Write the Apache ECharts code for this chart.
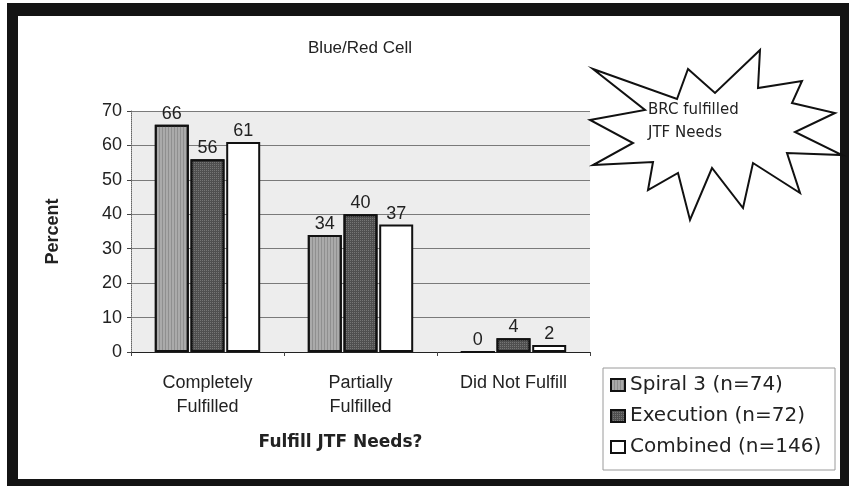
<!DOCTYPE html>
<html>
<head>
<meta charset="utf-8">
<script src="https://cdn.jsdelivr.net/npm/echarts@6/dist/echarts.min.js"></script>
<style>
  html, body { margin: 0; padding: 0; background: #fff; }
  #chart { width: 849px; height: 486px; }
</style>
</head>
<body>
<div id="chart"></div>
<script>
// Survey answers, percent of respondents
var categories = ['Completely\nFulfilled', 'Partially\nFulfilled', 'Did Not Fulfill'];
var seriesNames = ['Spiral 3 (n=74)', 'Execution (n=72)', 'Combined (n=146)'];
var spiral3 = [66, 34, 0];
var execution = [56, 40, 4];
var combined = [61, 37, 2];
var yTicks = [0, 10, 20, 30, 40, 50, 60, 70];

var FONT = '"Liberation Sans", Arial, sans-serif';
var WIDE = '"DejaVu Sans", "Liberation Sans", sans-serif';

// Burst callout outline
var burst = [
  [593, 69], [677, 99], [688, 69], [715, 93], [760, 50], [758, 88],
  [802, 81], [792, 103], [835, 113], [795, 132], [842, 155], [787, 153],
  [800, 193], [753, 163], [743, 208], [712, 168], [690, 220], [678, 173],
  [648, 190], [653, 162], [593, 165], [633, 143], [590, 120], [645, 110]
];

// fill textures for the shaded bars
var stripes = {
  symbol: 'rect', symbolSize: 1,
  dashArrayX: [1, 2], dashArrayY: [4, 0],
  color: 'rgba(120,120,120,0.55)'
};
var dots = {
  symbol: 'rect', symbolSize: 1,
  dashArrayX: [1, 1], dashArrayY: [1, 1],
  color: 'rgba(150,150,150,0.55)'
};

function barSeries(name, data, color, decal) {
  var style = { color: color, borderColor: '#111', borderWidth: 2 };
  if (decal) style.decal = decal;
  return {
    name: name,
    type: 'bar',
    data: data,
    barWidth: 34,
    barGap: '5%',
    itemStyle: style,
    label: {
      show: true, position: 'top', distance: 2,
      fontFamily: FONT, fontSize: 18, color: '#222'
    }
  };
}

var chart = echarts.init(document.getElementById('chart'), null, { renderer: 'canvas' });
chart.setOption({
  animation: false,
  backgroundColor: '#fff',
  title: {
    text: 'Blue/Red Cell',
    left: 355, top: 35, textAlign: 'center',
    textStyle: { fontFamily: FONT, fontSize: 17, fontWeight: 'normal', color: '#222' }
  },
  grid: {
    left: 131, right: 259, top: 111, bottom: 134,
    show: true, backgroundColor: '#ededed', borderWidth: 0
  },
  legend: {
    orient: 'vertical',
    left: 610, top: 375,
    padding: 0,
    itemGap: 11,
    icon: 'rect',
    itemWidth: 14, itemHeight: 12,
    borderWidth: 0,
    textStyle: { fontFamily: WIDE, fontSize: 20, color: '#222', padding: [0, 0, 0, 0] },
    data: seriesNames
  },
  xAxis: {
    type: 'category',
    data: categories,
    name: 'Fulfill JTF Needs?',
    nameLocation: 'middle',
    nameGap: 82,
    nameTextStyle: {
      fontFamily: WIDE, fontSize: 17, fontWeight: 'bold', color: '#222',
      padding: [0, 40, 0, 0]
    },
    axisLine: { lineStyle: { color: '#222', width: 1 } },
    axisTick: { show: true, length: 4, lineStyle: { color: '#444' } },
    axisLabel: {
      fontFamily: FONT, fontSize: 18, color: '#222', margin: 19, lineHeight: 24
    }
  },
  yAxis: {
    type: 'value',
    min: yTicks[0], max: yTicks[yTicks.length - 1], interval: 10,
    name: 'Percent',
    nameLocation: 'middle',
    nameGap: 69,
    nameRotate: 90,
    nameTextStyle: { fontFamily: FONT, fontSize: 18, fontWeight: 'bold', color: '#222' },
    axisLine: { show: true, lineStyle: { color: '#666', type: 'dotted' } },
    axisTick: { show: true, length: 4, lineStyle: { color: '#444' } },
    axisLabel: { fontFamily: FONT, fontSize: 18, color: '#222', margin: 9 },
    splitLine: { show: true, lineStyle: { color: '#7a7a7a', width: 1 } }
  },
  series: [
    barSeries(seriesNames[0], spiral3, '#aaaaaa', stripes),
    barSeries(seriesNames[1], execution, '#4f4f4f', dots),
    barSeries(seriesNames[2], combined, '#ffffff')
  ],
  graphic: [
    // frame
    { type: 'rect', shape: { x: 7, y: 3, width: 842, height: 13 }, style: { fill: '#141414' }, silent: true },
    { type: 'rect', shape: { x: 7, y: 3, width: 11, height: 483 }, style: { fill: '#141414' }, silent: true },
    { type: 'rect', shape: { x: 7, y: 479, width: 842, height: 7 }, style: { fill: '#141414' }, silent: true },
    { type: 'rect', shape: { x: 840, y: 3, width: 9, height: 483 }, style: { fill: '#141414' }, silent: true },
    // legend box
    {
      type: 'rect', z: -1, silent: true,
      shape: { x: 603, y: 368, width: 232, height: 102 },
      style: { fill: '#fff', stroke: '#9a9a9a', lineWidth: 1 }
    },
    // callout
    {
      type: 'polygon', z: 100,
      shape: { points: burst },
      style: { fill: '#fff', stroke: '#111', lineWidth: 2 }
    },
    {
      type: 'text', z: 101, left: 648, top: 99,
      style: {
        text: 'BRC fulfilled\nJTF Needs',
        fontFamily: WIDE, fontSize: 15, lineHeight: 23, fill: '#222'
      }
    }
  ]
});
</script>
</body>
</html>
